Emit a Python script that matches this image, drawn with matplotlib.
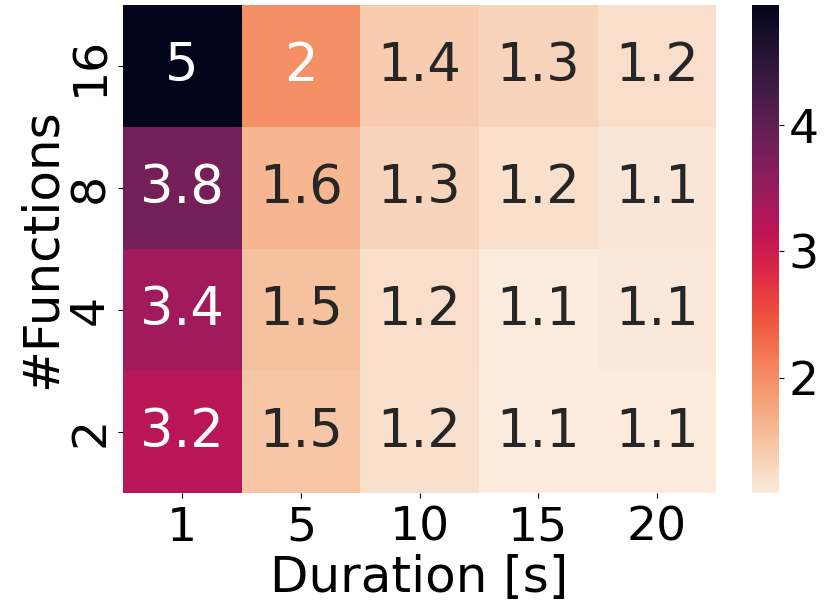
import matplotlib
matplotlib.use('Agg')
import matplotlib.pyplot as plt
import numpy as np
import seaborn as sns

# Data
durations = [1, 5, 10, 15, 20]
functions = [16, 8, 4, 2]
speedup = np.array([
    [4.95, 1.98, 1.42, 1.32, 1.22],
    [3.80, 1.62, 1.33, 1.21, 1.14],
    [3.40, 1.52, 1.22, 1.10, 1.12],
    [3.20, 1.48, 1.20, 1.09, 1.10],
])

plt.rcParams['font.family'] = ['DejaVu Sans']

fig = plt.figure(figsize=(8.3, 6.16), dpi=100)
ax = fig.add_axes([0.148, 0.200, 0.715, 0.792])
cax = fig.add_axes([0.906, 0.200, 0.032, 0.792])

sns.heatmap(speedup, ax=ax, cbar_ax=cax, cmap='rocket_r', annot=True, fmt='.2g',
            annot_kws={'fontsize': 38},
            xticklabels=durations, yticklabels=functions)

ax.tick_params(axis='both', labelsize=34)
ax.tick_params(axis='x', pad=6)
ax.set_xlabel('Duration [s]', fontsize=36, labelpad=2)
ax.set_ylabel('#Functions', fontsize=36, labelpad=2)
ax.set_yticklabels(functions, rotation=90, va='center')
cax.tick_params(labelsize=34)
cax.set_yticks([2, 3, 4])

fig.savefig('out.png', dpi=100, facecolor='white')
